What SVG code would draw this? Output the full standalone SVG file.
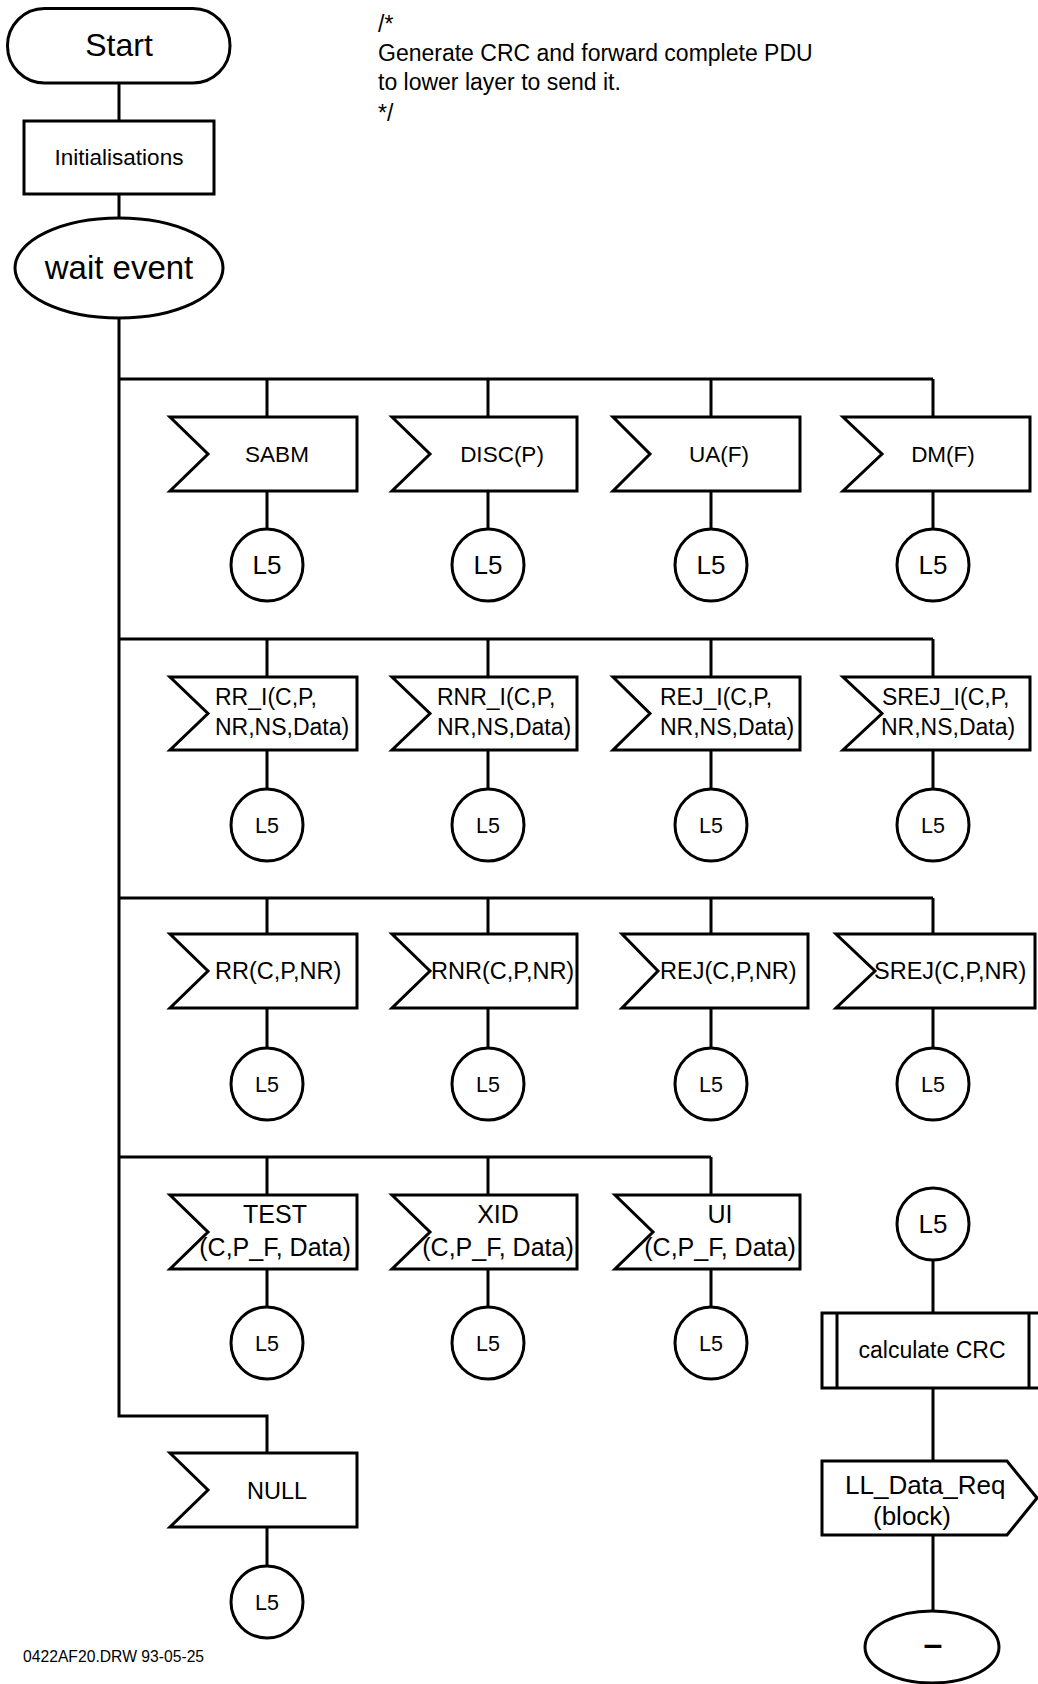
<svg xmlns="http://www.w3.org/2000/svg" width="1038" height="1684" viewBox="0 0 1038 1684">
<style>
.s{fill:#fff;stroke:#000;stroke-width:3;stroke-linejoin:miter}
.c{fill:none;stroke:#000;stroke-width:3}
text{font-family:"Liberation Sans",Arial,sans-serif;fill:#000}
.m{text-anchor:middle}
.t22{font-size:22.5px}
.t23{font-size:23px}
.t235{font-size:23.5px}
.t25{font-size:25px}
.l1{font-size:26px;text-anchor:middle}
.l2{font-size:21.5px;text-anchor:middle}
</style>
<rect width="1038" height="1684" fill="#fff"/>
<g id="connectors" class="c">
<path d="M119,83V121M119,194V218M119,318V1416H267V1453"/>
<path d="M119,379H933M267,379V417M488,379V417M711,379V417M933,379V417"/>
<path d="M267,491V529M488,491V529M711,491V529M933,491V529"/>
<path d="M119,639H933M267,639V677M488,639V677M711,639V677M933,639V677"/>
<path d="M267,750V789M488,750V789M711,750V789M933,750V789"/>
<path d="M119,898H933M267,898V934M488,898V934M711,898V934M933,898V934"/>
<path d="M267,1008V1048M488,1008V1048M711,1008V1048M933,1008V1048"/>
<path d="M119,1157H711M267,1157V1195M488,1157V1195M711,1157V1195"/>
<path d="M267,1269V1307M488,1269V1307M711,1269V1307"/>
<path d="M267,1527V1566"/>
<path d="M933,1260V1313M933,1388V1461M933,1535V1611"/>
</g>
<g id="start"><rect class="s" x="7.5" y="8.5" width="222.5" height="74.5" rx="37"/><text class="m" x="119" y="56" font-size="32">Start</text></g>
<g id="init"><rect class="s" x="24" y="121" width="190" height="73"/><text class="m t22" x="119" y="165">Initialisations</text></g>
<g id="wait"><ellipse class="s" cx="119" cy="268" rx="104" ry="50"/><text class="m" x="119" y="279" font-size="33">wait event</text></g>
<g id="comment" font-size="23px"><text x="378" y="32">/*</text><text x="378" y="61">Generate CRC and forward complete PDU</text><text x="378" y="90">to lower layer to send it.</text><text x="378" y="121">*/</text></g>

<g id="sabm"><path class="s" d="M170,417H357V491H170L208,454Z"/><text class="m t22" x="277" y="462">SABM</text></g>
<g id="disc"><path class="s" d="M392,417H577V491H392L430,454Z"/><text class="m t22" x="502" y="462">DISC(P)</text></g>
<g id="ua"><path class="s" d="M613,417H800V491H613L650,454Z"/><text class="m t22" x="719" y="462">UA(F)</text></g>
<g id="dm"><path class="s" d="M843,417H1030V491H843L882,454Z"/><text class="m t22" x="943" y="462">DM(F)</text></g>
<g id="c11"><circle class="s" cx="267" cy="565" r="36"/><text class="l1" x="267" y="574">L5</text></g>
<g id="c12"><circle class="s" cx="488" cy="565" r="36"/><text class="l1" x="488" y="574">L5</text></g>
<g id="c13"><circle class="s" cx="711" cy="565" r="36"/><text class="l1" x="711" y="574">L5</text></g>
<g id="c14"><circle class="s" cx="933" cy="565" r="36"/><text class="l1" x="933" y="574">L5</text></g>

<g id="rri"><path class="s" d="M170,677H357V750H170L208,713.5Z"/><text class="t23" x="215" y="705">RR_I(C,P,</text><text class="t23" x="215" y="735">NR,NS,Data)</text></g>
<g id="rnri"><path class="s" d="M392,677H577V750H392L430,713.5Z"/><text class="t23" x="437" y="705">RNR_I(C,P,</text><text class="t23" x="437" y="735">NR,NS,Data)</text></g>
<g id="reji"><path class="s" d="M613,677H800V750H613L650,713.5Z"/><text class="t23" x="660" y="705">REJ_I(C,P,</text><text class="t23" x="660" y="735">NR,NS,Data)</text></g>
<g id="sreji"><path class="s" d="M843,677H1030V750H843L882,713.5Z"/><text class="t23" x="882" y="705">SREJ_I(C,P,</text><text class="t23" x="881" y="735">NR,NS,Data)</text></g>
<g id="c21"><circle class="s" cx="267" cy="825" r="36"/><text class="l2" x="267" y="833">L5</text></g>
<g id="c22"><circle class="s" cx="488" cy="825" r="36"/><text class="l2" x="488" y="833">L5</text></g>
<g id="c23"><circle class="s" cx="711" cy="825" r="36"/><text class="l2" x="711" y="833">L5</text></g>
<g id="c24"><circle class="s" cx="933" cy="825" r="36"/><text class="l2" x="933" y="833">L5</text></g>

<g id="rr"><path class="s" d="M170,934H357V1008H170L208,971Z"/><text class="t235" x="215" y="979">RR(C,P,NR)</text></g>
<g id="rnr"><path class="s" d="M392,934H577V1008H392L430,971Z"/><text class="t235" x="431" y="979">RNR(C,P,NR)</text></g>
<g id="rej"><path class="s" d="M622,934H808V1008H622L658,971Z"/><text class="t235" x="660" y="979">REJ(C,P,NR)</text></g>
<g id="srej"><path class="s" d="M836,934H1035V1008H836L875,971Z"/><text class="t235" x="874" y="979">SREJ(C,P,NR)</text></g>
<g id="c31"><circle class="s" cx="267" cy="1084" r="36"/><text class="l2" x="267" y="1092">L5</text></g>
<g id="c32"><circle class="s" cx="488" cy="1084" r="36"/><text class="l2" x="488" y="1092">L5</text></g>
<g id="c33"><circle class="s" cx="711" cy="1084" r="36"/><text class="l2" x="711" y="1092">L5</text></g>
<g id="c34"><circle class="s" cx="933" cy="1084" r="36"/><text class="l2" x="933" y="1092">L5</text></g>

<g id="test"><path class="s" d="M170,1195H357V1269H170L208,1232Z"/><text class="m t25" x="275" y="1223">TEST</text><text class="m t25" x="275" y="1256">(C,P_F, Data)</text></g>
<g id="xid"><path class="s" d="M392,1195H577V1269H392L430,1232Z"/><text class="m t25" x="498" y="1223">XID</text><text class="m t25" x="498" y="1256">(C,P_F, Data)</text></g>
<g id="ui"><path class="s" d="M615,1195H800V1269H615L653,1232Z"/><text class="m t25" x="720" y="1223">UI</text><text class="m t25" x="720" y="1256">(C,P_F, Data)</text></g>
<g id="c41"><circle class="s" cx="267" cy="1343" r="36"/><text class="l2" x="267" y="1351">L5</text></g>
<g id="c42"><circle class="s" cx="488" cy="1343" r="36"/><text class="l2" x="488" y="1351">L5</text></g>
<g id="c43"><circle class="s" cx="711" cy="1343" r="36"/><text class="l2" x="711" y="1351">L5</text></g>

<g id="null"><path class="s" d="M170,1453H357V1527H170L208,1490Z"/><text class="m" x="277" y="1499" font-size="23.5">NULL</text></g>
<g id="c5"><circle class="s" cx="267" cy="1602" r="36"/><text class="l2" x="267" y="1610">L5</text></g>

<g id="l5in"><circle class="s" cx="933" cy="1224" r="36"/><text class="l1" x="933" y="1233">L5</text></g>
<g id="crc"><rect class="s" x="822" y="1313" width="222" height="75"/><path class="c" d="M837,1313V1388M1029,1313V1388"/><text class="m" x="932" y="1358" font-size="23">calculate CRC</text></g>
<g id="out"><path class="s" d="M822,1461H1007L1037,1498L1007,1535H822Z"/><text x="845" y="1494" font-size="26">LL_Data_Req</text><text x="873" y="1525" font-size="26">(block)</text></g>
<g id="stop"><ellipse class="s" cx="932" cy="1647" rx="67" ry="36"/><text class="m" x="933" y="1655" font-size="34" font-weight="bold">–</text></g>
<g id="footer"><text x="23" y="1662" font-size="15.7">0422AF20.DRW 93-05-25</text></g>
</svg>
